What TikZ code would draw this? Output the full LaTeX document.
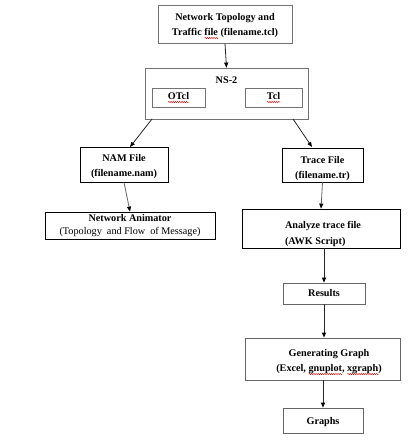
\documentclass[tikz,border=0pt]{standalone}
\usepackage{fontspec}
\setmainfont{Liberation Serif}
\usetikzlibrary{arrows.meta,decorations.pathmorphing}
\newcommand\redwave[1]{\setbox0\hbox{#1}\rlap{\tikz[baseline=0pt]\draw[red!85!black,line width=0.45pt,decorate,decoration={snake,amplitude=0.6pt,segment length=2.2pt}] (0pt,-2.8pt) -- (\wd0,-2.8pt);}\box0}
\begin{document}
\begin{tikzpicture}[x=1pt,y=-1pt,
  box/.style={draw=#1,line width=0.8pt,inner sep=0pt},
  box/.default={black},
  txt/.style={inner sep=0pt,align=center,font=\fontsize{10.2}{15}\selectfont\bfseries},
  arr/.style={draw=#1,line width=0.8pt,-{Triangle[length=5pt,width=4pt,color=black]}},
  arr/.default={black!85}]
\useasboundingbox[fill=white] (0,0) rectangle (412,446);
% boxes
\node[box=black!55,minimum width=134pt,minimum height=38pt] (top) at (225,24) {};
\node[txt] (toptext) at (225,26) {Network Topology and\\Traffic \redwave{file}\ (filename.tcl)};
\node[box=black!55,minimum width=163pt,minimum height=51pt] (ns) at (226.5,93.5) {};
\node[txt] (nslab) at (226.5,80) {NS-2};
\node[box=black!55,minimum width=53pt,minimum height=19pt] (otcl) at (178.5,97.5) {};
\node[txt] (otcltext) at (178.5,97.5) {\redwave{OTcl}};
\node[box=black!55,minimum width=57pt,minimum height=19pt] (tcl) at (273.5,97.5) {};
\node[txt] (tcltext) at (273.5,97.5) {\redwave{Tcl}};
\node[box,minimum width=88pt,minimum height=35pt] (nam) at (124,164.5) {};
\node[txt] (namtext) at (124,166.5) {NAM File\\(filename.nam)};
\node[box,minimum width=170pt,minimum height=27pt] (na) at (130,225.5) {};
\node[txt,font=\fontsize{10.2}{12.5}\selectfont\bfseries] (natext) at (130,225.5)
  {Network Animator\\{\mdseries (Topology\enspace and Flow\enspace of Message)}};
\node[box,minimum width=81pt,minimum height=34pt] (trace) at (322.5,165) {};
\node[txt] (tracetext) at (322.5,169) {Trace File\\(filename.tr)};
\node[box,minimum width=158pt,minimum height=39pt] (an) at (321,228.5) {};
\node[txt,align=left,font=\fontsize{10.2}{16}\selectfont\bfseries] (antext) at (323,233.5)
  {Analyze trace file\\(AWK Script)};
\node[box=black!60,minimum width=82pt,minimum height=21pt] (res) at (324,293.5) {};
\node[txt] (restext) at (324,293.5) {Results};
\node[box=black!60,minimum width=155pt,minimum height=42pt] (gen) at (322.5,359) {};
\node[txt] (gentext) at (329,362) {Generating Graph\\(Excel, \redwave{gnuplot}, \redwave{xgraph})};
\node[box=black!60,minimum width=80pt,minimum height=25pt] (gr) at (323,420.5) {};
\node[txt] (grtext) at (323,422) {Graphs};
% connectors
\draw[arr] (top.south) -- (ns.north);
\coordinate (nsl) at (152,119);
\coordinate (nsr) at (293,119);
\coordinate (naml) at (130,147);
\coordinate (trr) at (312,147);
\draw[arr] (nsl) -- (naml);
\draw[arr] (nsr) -- (trr);
\draw[arr=black!60] (nam.south) -- (na.north);
\draw[arr=black!60] (trace.south) -- (an.north);
\draw[arr] (an.south -| res.north) -- (res.north);
\draw[arr] (res.south) -- (res.south |- gen.north);
\draw[arr] (gen.south -| gr.north) -- (gr.north);
\end{tikzpicture}
\end{document}
